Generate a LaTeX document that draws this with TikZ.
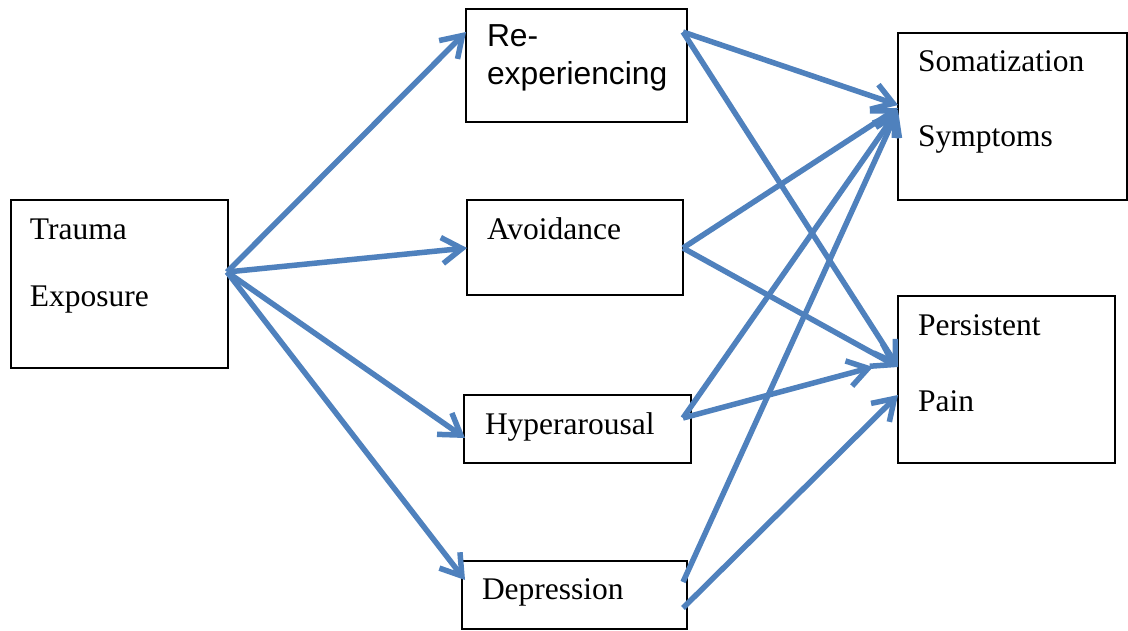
\documentclass[tikz,border=0pt]{standalone}
\usepackage{fontspec}
\setmainfont{Liberation Serif}
\newfontfamily\arialfont{Liberation Sans}
\usetikzlibrary{arrows.meta}
\definecolor{arrowblue}{RGB}{79,129,189}
\begin{document}
\begin{tikzpicture}[x=1pt,y=-1pt,
  box/.style={draw=black, line width=1.8pt, rectangle, inner sep=0pt, outer sep=0pt, anchor=north west},
  txt/.style={inner sep=0pt, outer sep=0pt, anchor=base west, font=\fontsize{31.5}{36}\selectfont},
  atxt/.style={inner sep=0pt, outer sep=0pt, anchor=base west, font=\fontsize{31.8}{36}\selectfont\arialfont},
  link/.style={draw=arrowblue, line width=5.5pt, -{Straight Barb[length=20pt, width=26pt]}}
]
\useasboundingbox[fill=white] (0,0) rectangle (1128,631);

% boxes
\node[box, minimum width=217pt, minimum height=168pt] (trauma) at (11,200) {};
\node[box, minimum width=221pt, minimum height=113pt] (reexp) at (466,9) {};
\node[box, minimum width=216pt, minimum height=95pt] (avoid) at (467,200) {};
\node[box, minimum width=227pt, minimum height=68pt] (hyper) at (464,395) {};
\node[box, minimum width=225pt, minimum height=68pt] (depr) at (462,561) {};
\node[box, minimum width=229pt, minimum height=167pt] (somat) at (898,33) {};
\node[box, minimum width=217pt, minimum height=167pt] (pain) at (898,296) {};

% texts
\node[txt] (traumaA) at (30,240) {Trauma};
\node[txt] (traumaB) at (30,306) {Exposure};
\node[atxt] (reexpA) at (487,47) {Re-};
\node[atxt] (reexpB) at (487,85) {experiencing};
\node[txt] (avoidA) at (487,240) {Avoidance};
\node[txt] (hyperA) at (485,434) {Hyperarousal};
\node[txt] (deprA) at (482,599) {Depression};
\node[txt] (somatA) at (918,72) {Somatization};
\node[txt] (somatB) at (918,147) {Symptoms};
\node[txt] (painA) at (918,335) {Persistent};
\node[txt] (painB) at (918,411) {Pain};

% connector end points on the box borders
\coordinate (tOut) at (227,272);
\coordinate (reIn) at (466,32);
\coordinate (avIn) at (467,248);
\coordinate (hyIn) at (465,438);
\coordinate (deIn) at (465,580);
\coordinate (reOut) at (683,32);
\coordinate (avOut) at (683,248);
\coordinate (hyOut) at (683,418);
\coordinate (deOutA) at (683,582);
\coordinate (deOutB) at (683,608);
\coordinate (soInA) at (898,105);
\coordinate (soInB) at (898,108);
\coordinate (soInC) at (898,110);
\coordinate (paInA) at (898,367);
\coordinate (paInB) at (873,367);
\coordinate (paInC) at (898,395);

% connectors
\draw[link] (tOut) -- (reIn);
\draw[link] (tOut) -- (avIn);
\draw[link] (tOut) -- (hyIn);
\draw[link] (tOut) -- (deIn);
\draw[link] (reOut) -- (soInA);
\draw[link] (reOut) -- (paInA);
\draw[link] (avOut) -- (soInB);
\draw[link] (avOut) -- (paInA);
\draw[link] (hyOut) -- (soInC);
\draw[link] (hyOut) -- (paInB);
\draw[link] (deOutA) -- (soInC);
\draw[link] (deOutB) -- (paInC);
\end{tikzpicture}
\end{document}
